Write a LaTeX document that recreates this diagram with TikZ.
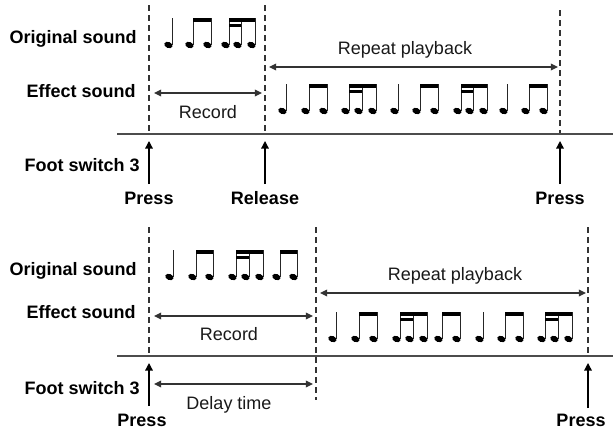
\documentclass[tikz,border=0pt]{standalone}
\usepackage{fontspec}
\setmainfont{Liberation Sans}
\usetikzlibrary{arrows.meta}
\newcommand\nhead[2]{%
  \fill[notecol,rotate around={-22:(#1-3.6,#2)}] (#1-3.6,#2) ellipse [x radius=2.15pt, y radius=1.5pt];
  \draw[stemline] (#1,#2-0.5) -- (#1,#2-27);}
\newcommand\nquarter[2]{\nhead{#1}{#2}}
\newcommand\npair[3]{\nhead{#1}{#3}\nhead{#2}{#3}%
  \fill[notecol] (#1-0.3,#3-27) rectangle (#2+0.3,#3-23.5);}
\newcommand\ntrip[4]{\nhead{#1}{#4}\nhead{#2}{#4}\nhead{#3}{#4}%
  \fill[notecol] (#1-0.3,#4-27) rectangle (#3+0.3,#4-23.5);
  \fill[notecol] (#1-0.3,#4-20.8) rectangle (#2+0.3,#4-18.2);}
\begin{document}
\begin{tikzpicture}[x=0.5pt,y=-0.5pt,
  every node/.style={inner sep=0pt,font=\fontsize{9}{11}\selectfont},
  lbl/.style={anchor=base east,font=\fontsize{9}{11}\selectfont\bfseries},
  evt/.style={anchor=base,font=\fontsize{9}{11}\selectfont\bfseries},
  txt/.style={anchor=base,text=black!90},
  dashline/.style={draw=black!80,line width=0.6pt,dash pattern=on 3pt off 2pt},
  baseline/.style={draw=black!70,line width=0.8pt},
  span/.style={draw=black!80,line width=0.55pt,{Triangle[length=3.6pt,width=3.4pt]}-{Triangle[length=3.6pt,width=3.4pt]}},
  uparrow/.style={draw=black,line width=0.65pt,-{Triangle[length=3.8pt,width=3.8pt]}},
  notecol/.style={black},
  stemline/.style={draw=black!85,line width=0.5pt}]
\useasboundingbox (0,0) rectangle (613,428);
\fill[white] (0,0) rectangle (613,428);
% ---------------- top panel ----------------
\node[lbl] (os1) at (137,43) {Original sound};
\node[lbl] (es1) at (136,97) {Effect sound};
\node[lbl] (fs1) at (140,171) {Foot switch 3};
\node[evt] (pr1) at (149,204) {Press};
\node[evt] (re1) at (265,204) {Release};
\node[evt] (pr2) at (560,204) {Press};
\node[txt] (rec1) at (208,118) {Record};
\node[txt] (rep1) at (405,54) {Repeat playback};
\coordinate (t1a) at (149,5);   \coordinate (t1b) at (149,134);
\coordinate (t2a) at (265,5);   \coordinate (t2b) at (265,134);
\coordinate (t3a) at (560,10);  \coordinate (t3b) at (560,134);
\coordinate (l1a) at (117,134); \coordinate (l1b) at (613,134);
\draw[dashline] (t1a) -- (t1b);
\draw[dashline] (t2a) -- (t2b);
\draw[dashline] (t3a) -- (t3b);
\draw[baseline] (l1a) -- (l1b);
\coordinate (u1s) at (149,184); \coordinate (u1e) at (149,141);
\coordinate (u2s) at (265,184); \coordinate (u2e) at (265,141);
\coordinate (u3s) at (560,184); \coordinate (u3e) at (560,141);
\draw[uparrow] (u1s) -- (u1e);
\draw[uparrow] (u2s) -- (u2e);
\draw[uparrow] (u3s) -- (u3e);
\coordinate (r1a) at (154,93); \coordinate (r1b) at (262,93);
\draw[span] (r1a) -- (r1b);
\coordinate (p1a) at (269,67); \coordinate (p1b) at (558,67);
\draw[span] (p1a) -- (p1b);
% notes
\nquarter{172}{45}\npair{193}{211}{45}\ntrip{229}{241}{255}{45}
\nquarter{286}{111}\npair{309}{327}{111}\ntrip{349}{362}{376}{111}
\nquarter{398}{111}\npair{420}{438}{111}\ntrip{461}{473}{487}{111}
\nquarter{507}{111}\npair{529}{547}{111}
% ---------------- bottom panel ----------------
\node[lbl] (os2) at (137,275) {Original sound};
\node[lbl] (es2) at (136,318) {Effect sound};
\node[lbl] (fs2) at (140,394) {Foot switch 3};
\node[evt] (pr3) at (142,426) {Press};
\node[evt] (pr4) at (581,426) {Press};
\node[txt] (rec2) at (229,340) {Record};
\node[txt] (del2) at (229,409) {Delay time};
\node[txt] (rep2) at (455,280) {Repeat playback};
\coordinate (b1a) at (149,227); \coordinate (b1b) at (149,356);
\coordinate (b2a) at (316,227); \coordinate (b2b) at (316,400);
\coordinate (b3a) at (588,227); \coordinate (b3b) at (588,356);
\coordinate (l2a) at (117,356); \coordinate (l2b) at (613,356);
\draw[dashline] (b1a) -- (b1b);
\draw[dashline] (b2a) -- (b2b);
\draw[dashline] (b3a) -- (b3b);
\draw[baseline] (l2a) -- (l2b);
\coordinate (u4s) at (149,406); \coordinate (u4e) at (149,363);
\coordinate (u5s) at (588,408); \coordinate (u5e) at (588,363);
\draw[uparrow] (u4s) -- (u4e);
\draw[uparrow] (u5s) -- (u5e);
\coordinate (r2a) at (154,316); \coordinate (r2b) at (313,316);
\draw[span] (r2a) -- (r2b);
\coordinate (d2a) at (154,384); \coordinate (d2b) at (313,384);
\draw[span] (d2a) -- (d2b);
\coordinate (p2a) at (320,293); \coordinate (p2b) at (586,293);
\draw[span] (p2a) -- (p2b);
% notes
\nquarter{173}{277}\npair{196}{213}{277}\ntrip{236}{249}{263}{277}\npair{280}{297}{277}
\nquarter{336}{339}\npair{359}{377}{339}\ntrip{400}{413}{427}{339}\npair{442}{460}{339}
\nquarter{483}{339}\npair{505}{523}{339}\ntrip{545}{558}{572}{339}
\end{tikzpicture}
\end{document}
